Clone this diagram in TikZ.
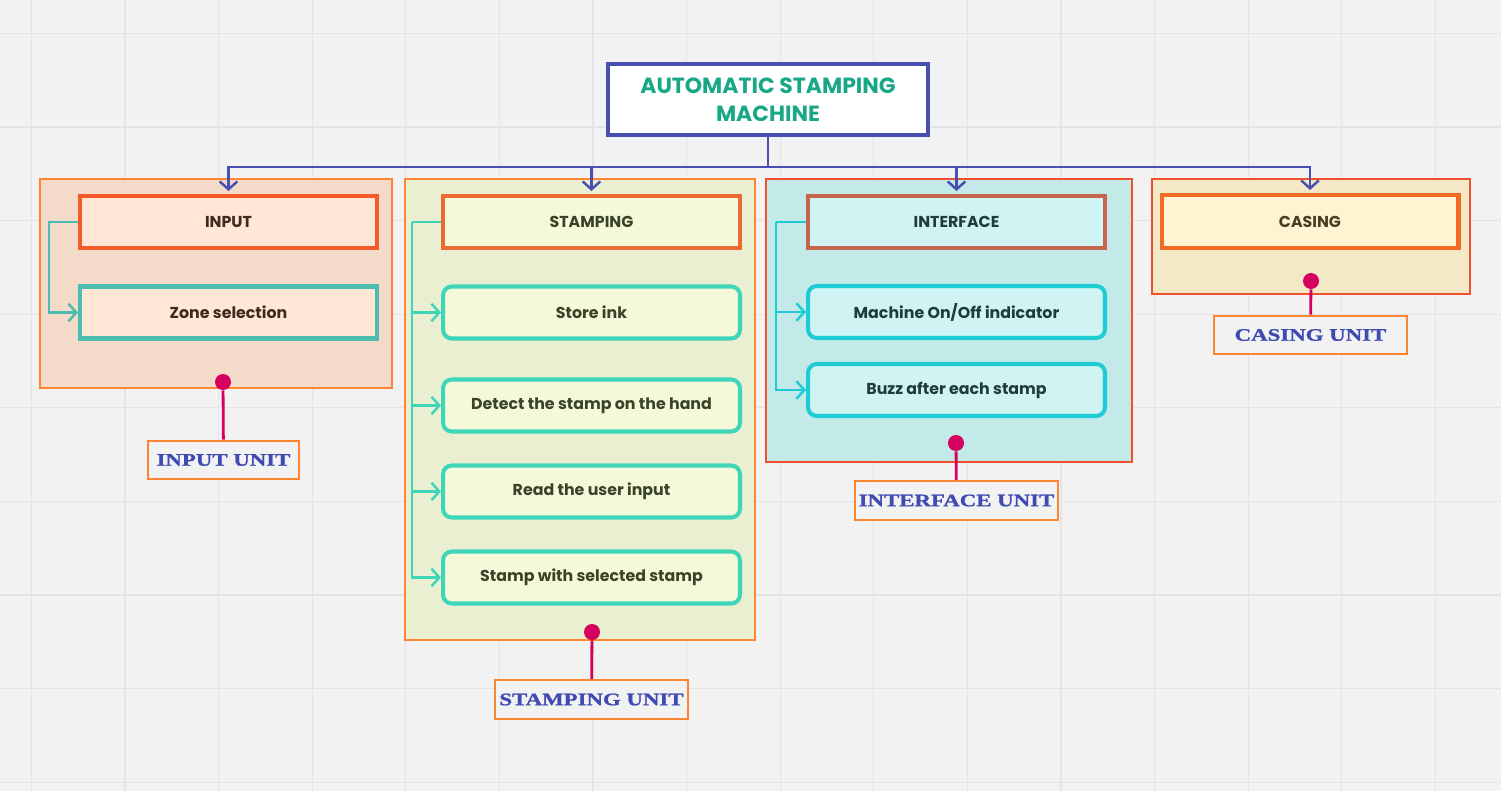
\documentclass[tikz,border=0pt]{standalone}
\usepackage{fontspec}
\setmainfont{Poppins}
\newfontfamily\unitfont[FakeStretch=1.3, FakeBold=1.2]{Liberation Serif Bold}
\usetikzlibrary{arrows.meta, calc}

\definecolor{paper}{HTML}{F2F2F2}
\definecolor{gridline}{HTML}{E4E4E4}
\definecolor{busblue}{HTML}{4A50B2}
\definecolor{titleteal}{HTML}{19A886}
\definecolor{pinkdot}{HTML}{D6005E}
\definecolor{unitblue}{HTML}{3F4AB2}
\definecolor{unitorange}{HTML}{FF8533}
% input colours
\definecolor{inback}{HTML}{F4DBC9}
\definecolor{inhead}{HTML}{FFE6D5}
\definecolor{inedge}{HTML}{F45A2A}
\definecolor{inteal}{HTML}{4BBDB0}
\definecolor{intext}{HTML}{3E2A1E}
% stamping colours
\definecolor{stback}{HTML}{EBEFD1}
\definecolor{sthead}{HTML}{F4F9DA}
\definecolor{stedge}{HTML}{EC6B33}
\definecolor{stteal}{HTML}{3ED5B8}
\definecolor{sttext}{HTML}{3A4327}
% interface colours
\definecolor{ifback}{HTML}{C4E9E9}
\definecolor{ifhead}{HTML}{D0F4F4}
\definecolor{ifedge}{HTML}{C4654C}
\definecolor{ifteal}{HTML}{1FCCD6}
\definecolor{iftext}{HTML}{1F3B3C}
\definecolor{redframe}{HTML}{F0502E}
% casing colours
\definecolor{csback}{HTML}{F3E9C6}
\definecolor{cshead}{HTML}{FFF4D2}
\definecolor{csedge}{HTML}{F26A23}
\definecolor{cstext}{HTML}{4A3E22}

\tikzset{
  group/.style={draw=#1, line width=1.4pt, inner sep=0pt},
  headbox/.style={draw=#1, line width=2.3pt, minimum width=5.94cm,
    minimum height=1.04cm, inner sep=0pt, font=\bfseries\fontsize{9}{11}\selectfont},
  itembox/.style={headbox=#1, rounded corners=5pt},
  bus/.style={busblue, line width=1.3pt},
  branch/.style={line width=1.4pt, -{Straight Barb[length=4.5pt,width=10pt,line width=1.4pt]}},
  dot/.style={circle, fill=pinkdot, inner sep=0pt, minimum size=0.32cm},
  stalk/.style={pinkdot, line width=1.6pt},
  unitbox/.style={draw=unitorange, line width=1.4pt, fill=paper, inner sep=0pt,
    minimum height=0.77cm, text=unitblue, font=\unitfont\fontsize{10}{12}\selectfont}
}

\begin{document}
\begin{tikzpicture}[x=0.02cm, y=-0.02cm]
% Paper and grid
\useasboundingbox (0,0) rectangle (1501,791);
\fill[paper] (0,0) rectangle (1501,791);
\foreach \gx in {31.4,125,218.6,312.2,405.8,499.4,593,686.6,780.2,873.8,967.4,1061,1154.6,1248.2,1341.8,1435.4}
  \draw[gridline, line width=0.6pt] (\gx,0) -- (\gx,791);
\foreach \gy in {33.4,127,220.6,314.2,407.8,501.4,595,688.6,782.2}
  \draw[gridline, line width=0.6pt] (0,\gy) -- (1501,\gy);

% Group backgrounds
\node[group=unitorange, fill=inback, minimum width=7.04cm, minimum height=4.18cm] (ingrp) at (216,283.5) {};
\node[group=unitorange, fill=stback, minimum width=7cm, minimum height=9.22cm] (stgrp) at (580,409.5) {};
\node[group=redframe, fill=ifback, minimum width=7.32cm, minimum height=5.66cm] (ifgrp) at (949,320.5) {};
\node[group=redframe, fill=csback, minimum width=6.36cm, minimum height=2.3cm] (csgrp) at (1311,236.5) {};

% Title
\node[draw=busblue, line width=2.3pt, fill=white, minimum width=6.4cm, minimum height=1.42cm,
  align=center, text=titleteal, font=\bfseries\fontsize{12.5}{16}\selectfont] (title) at (768,99.5)
  {AUTOMATIC STAMPING\\MACHINE};

% Input
\node[headbox=inedge, fill=inhead, text=intext] (inputhd) at (228.5,222) {INPUT};
\node[headbox=inteal, fill=inhead, text=intext] (zone) at (228.5,312.5) {Zone selection};
\draw[branch, inteal] (inputhd.west) -- ++(-29,0) |- (zone.west);

% Stamping
\node[headbox=stedge, fill=sthead, text=sttext] (stamphd) at (591.5,222) {STAMPING};
\node[itembox=stteal, fill=sthead, text=sttext] (ink) at (591.5,312.5) {Store ink};
\node[itembox=stteal, fill=sthead, text=sttext] (detect) at (591.5,405.5) {Detect the stamp on the hand};
\node[itembox=stteal, fill=sthead, text=sttext] (readin) at (591.5,491.5) {Read the user input};
\node[itembox=stteal, fill=sthead, text=sttext] (stampit) at (591.5,577.5) {Stamp with selected stamp};
\draw[stteal, line width=1.4pt] (stamphd.west) -- ++(-29,0) coordinate (sttrunk);
\foreach \item in {ink, detect, readin, stampit}
  \draw[branch, stteal] (sttrunk) |- (\item.west);

% Interface
\node[headbox=ifedge, fill=ifhead, text=iftext] (facehd) at (956.5,222) {INTERFACE};
\node[itembox=ifteal, fill=ifhead, text=iftext] (onoff) at (956.5,312) {Machine On/Off indicator};
\node[itembox=ifteal, fill=ifhead, text=iftext] (buzz) at (956.5,390) {Buzz after each stamp};
\draw[ifteal, line width=1.4pt] (facehd.west) -- ++(-30,0) coordinate (iftrunk);
\foreach \item in {onoff, buzz}
  \draw[branch, ifteal] (iftrunk) |- (\item.west);

% Casing
\node[headbox=csedge, fill=cshead, text=cstext, minimum height=1.06cm] (casehd) at (1310,221.5) {CASING};

% Tree from the title
\draw[bus] (title.south) -- ++(0,30) coordinate (bus);
\foreach \hd in {inputhd, stamphd, facehd, casehd}
  \draw[bus, branch] (bus) -| ($(\hd.north)+(0,-3)$);

% Unit tags
\node[dot] (indot) at (223,382) {};
\node[unitbox, minimum width=3.02cm] (inunit) at (223.5,460) {INPUT UNIT};
\draw[stalk] (indot) -- (inunit);
\node[dot] (stdot) at (592,632) {};
\node[unitbox, minimum width=3.86cm] (stunit) at (591.5,699.5) {STAMPING UNIT};
\draw[stalk] (stdot) -- (stunit);
\node[dot] (ifdot) at (956,443) {};
\node[unitbox, minimum width=4.06cm] (ifunit) at (956.5,500.5) {INTERFACE UNIT};
\draw[stalk] (ifdot) -- (ifunit);
\node[dot] (csdot) at (1311,281) {};
\node[unitbox, minimum width=3.86cm] (csunit) at (1310.5,335) {CASING UNIT};
\draw[stalk] (csdot) -- (csunit);
\end{tikzpicture}
\end{document}
